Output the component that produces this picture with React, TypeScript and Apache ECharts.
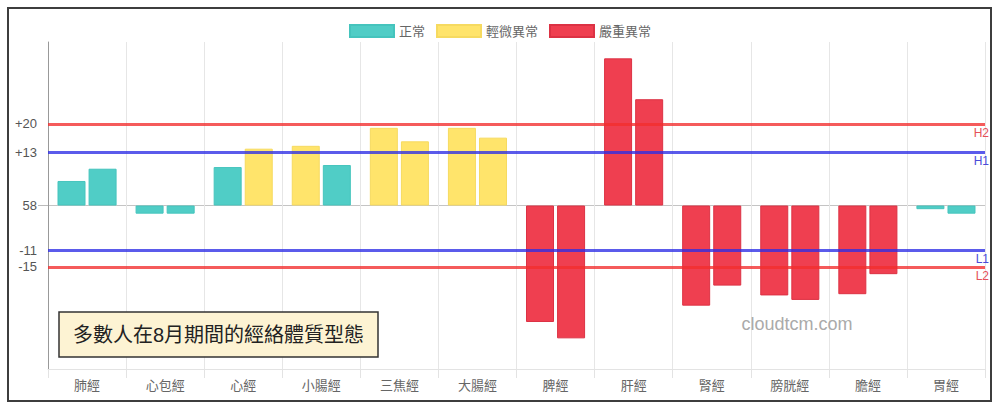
import React, { useEffect, useRef } from "react";
import * as echarts from "echarts";

const categories = ["肺經", "心包經", "心經", "小腸經", "三焦經", "大腸經", "脾經", "肝經", "腎經", "膀胱經", "膽經", "胃經"];
const firstBar = [6, -2, 9.4, 14.6, 19, 19, -28.5, 36, -24.5, -22, -21.7, -0.9];
const secondBar = [9, -2, 13.9, 9.9, 15.7, 16.6, -32.5, 26, -19.6, -23.1, -16.8, -2];

const statusNames = ["正常", "輕微異常", "嚴重異常"];
const statusFill = ["#50cdc6", "#ffe46b", "#ef3f50"];
const statusBorder = ["#45c4bd", "#f6da60", "#dc3244"];

const tickValues = [20, 13, 0, -11, -15];
const tickLabels = ["+20", "+13", "58", "-11", "-15"];

const refNames = ["H2", "H1", "L1", "L2"];
const refValues = [20, 13, -11, -15];
const refColors = ["rgba(242,45,45,0.78)", "rgba(45,45,230,0.78)", "rgba(45,45,230,0.78)", "rgba(242,45,45,0.78)"];
const refLabelColors = ["#e5505a", "#4b4bd8", "#4b4bd8", "#e5505a"];

const mildHigh = 13;
const severeHigh = 20;
const mildLow = -11;
const severeLow = -15;

const title = "多數人在8月期間的經絡體質型態";
const watermark = "cloudtcm.com";

const FONT = "'Liberation Sans', Arial, 'Noto Sans CJK TC', sans-serif";

function statusOf(v: number): number {
  if (v > severeHigh || v < severeLow) return 2;
  if (v > mildHigh || v < mildLow) return 1;
  return 0;
}

export default function App() {
  const ref = useRef<HTMLDivElement>(null);
  useEffect(() => {
    if (!ref.current) return;
    const chart = echarts.init(ref.current, undefined, { renderer: "svg" });
    const groups = [firstBar, secondBar];
    const series: any[] = [];
    groups.forEach((vals, gi) => {
      statusNames.forEach((name, si) => {
        series.push({
          type: "bar",
          name,
          stack: "g" + gi,
          barWidth: 28,
          barGap: "11%",
          data: vals.map((v) => (statusOf(v) === si ? v : "-")),
          itemStyle: { color: statusFill[si], borderColor: statusBorder[si], borderWidth: 1 },
          markLine:
            gi === 0 && si === 0
              ? {
                  silent: true,
                  symbol: ["none", "none"],
                  z: 10,
                  data: refValues.map((v, i) => ({
                    yAxis: v,
                    lineStyle: { color: refColors[i], width: 3, type: "solid" },
                    label: {
                      show: true,
                      position: "insideEndBottom",
                      formatter: refNames[i],
                      color: refLabelColors[i],
                      fontSize: 12,
                      fontFamily: FONT,
                      distance: [-4, 3],
                    },
                  })),
                }
              : undefined,
        });
      });
    });

    chart.setOption({
      animation: false,
      textStyle: { fontFamily: FONT },
      legend: {
        top: 19,
        left: "center",
        icon: "rect",
        itemWidth: 44,
        itemHeight: 12,
        itemGap: 11,
        data: statusNames,
        textStyle: { fontSize: 13, color: "#666", fontFamily: FONT },
      },
      grid: { left: 48, right: 15, top: 42, bottom: 44 },
      xAxis: {
        type: "category",
        data: categories,
        axisLine: { onZero: false, lineStyle: { color: "#e3e3e3" } },
        axisTick: { show: true, length: 9, lineStyle: { color: "#e3e3e3" } },
        splitLine: { show: true, lineStyle: { color: "#e6e6e6" } },
        axisLabel: { color: "#666", fontSize: 13, margin: 10, fontFamily: FONT },
      },
      yAxis: {
        type: "value",
        min: -40,
        max: 40,
        axisLine: { show: true, lineStyle: { color: "#999" } },
        axisTick: { show: true, length: 10, customValues: [0], lineStyle: { color: "#bbb" } },
        splitLine: { show: true, lineStyle: { color: "#c4c4c4" } },
        axisLabel: {
          customValues: tickValues,
          margin: 11,
          color: "#555",
          fontSize: 13,
          fontFamily: FONT,
          formatter: (v: number) => {
            const i = tickValues.indexOf(v);
            return i >= 0 ? tickLabels[i] : "";
          },
        },
      },
      series,
      graphic: [
        {
          type: "rect",
          z: 100,
          shape: { x: 8, y: 8, width: 983, height: 393 },
          style: { fill: "none", stroke: "#3d3d3d", lineWidth: 2 },
        },
        {
          type: "rect",
          z: 100,
          shape: { x: 59, y: 312, width: 319, height: 45 },
          style: { fill: "#fdf3d3", stroke: "#333", lineWidth: 1.5 },
        },
        {
          type: "text",
          z: 101,
          x: 218.5,
          y: 335,
          style: {
            text: title,
            fontSize: 20,
            fill: "#222",
            align: "center",
            verticalAlign: "middle",
            fontFamily: FONT,
          },
        },
        {
          type: "text",
          z: 101,
          x: 797,
          y: 324,
          style: {
            text: watermark,
            fontSize: 18,
            fill: "#aaa",
            align: "center",
            verticalAlign: "middle",
            fontFamily: FONT,
          },
        },
      ],
    });
    return () => chart.dispose();
  }, []);
  return (
    <div
      ref={ref}
      style={{ position: "absolute", left: 0, top: 0, width: 1000, height: 413, background: "#fff" }}
    />
  );
}
